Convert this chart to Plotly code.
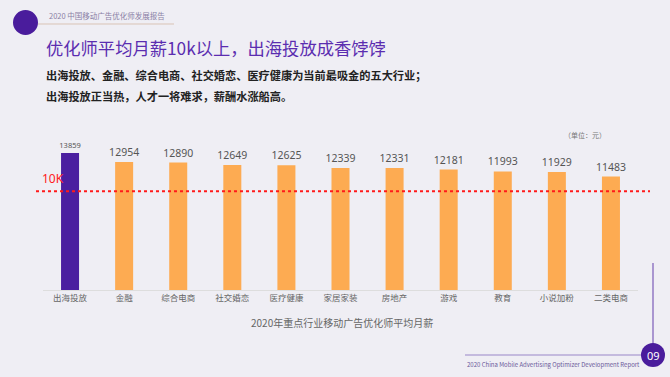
import plotly.graph_objects as go

categories = ["出海投放", "金融", "综合电商", "社交婚恋", "医疗健康", "家居家装", "房地产", "游戏", "教育", "小说加粉", "二类电商"]
salaries = [13859, 12954, 12890, 12649, 12625, 12339, 12331, 12181, 11993, 11929, 11483]
threshold = 10000
threshold_label = "10K"
unit_label = "（单位：元）"
title_text = "优化师平均月薪10k以上，出海投放成香饽饽"
sub1 = "出海投放、金融、综合电商、社交婚恋、医疗健康为当前最吸金的五大行业；"
sub2 = "出海投放正当热，人才一将难求，薪酬水涨船高。"
header_text = "2020 中国移动广告优化师发展报告"
caption_text = "2020年重点行业移动广告优化师平均月薪"
footer_text = "2020 China Mobile Advertising Optimizer Development Report"
page_no = "09"

W, H = 670, 377
L, R, T, B = 43, 32, 120, 87
PW, PH = W - L - R, H - T - B
YMAX = 17200

def px(x):
    return (x - L) / PW

def py(y):
    return (H - B - y) / PH

CJK = "Noto Sans CJK SC"
BG = "#efeef4"
bar_colors = ["#4b1fa0"] + ["#fdab52"] * (len(categories) - 1)
label_sizes = [7.5] + [10.5] * (len(categories) - 1)

fig = go.Figure()
fig.add_trace(go.Bar(
    x=categories, y=salaries,
    marker=dict(color=bar_colors, line=dict(width=0)),
    text=[str(v) for v in salaries], textposition="outside", constraintext="none",
    textfont=dict(family="Noto Sans", size=label_sizes, color="#555555"),
    cliponaxis=False, hoverinfo="skip",
))

shapes = [
    dict(type="line", xref="paper", yref="y", x0=px(36), x1=px(650), y0=threshold, y1=threshold,
         line=dict(color="#ff1a1a", width=2, dash="dot")),
    dict(type="circle", xref="paper", yref="paper", x0=px(13), x1=px(38), y0=py(35), y1=py(10),
         fillcolor="#4a1c9c", line=dict(width=0)),
    dict(type="line", xref="paper", yref="paper", x0=px(38), x1=px(174), y0=py(24), y1=py(24),
         line=dict(color="#d9c3b5", width=1)),
    dict(type="line", xref="paper", yref="paper", x0=px(653), x1=px(653), y0=py(263), y1=py(345),
         line=dict(color="#7b5cb8", width=1.2)),
    dict(type="line", xref="paper", yref="paper", x0=px(465), x1=px(642), y0=py(355), y1=py(355),
         line=dict(color="#9a86c8", width=1.2)),
    dict(type="circle", xref="paper", yref="paper", x0=px(641), x1=px(665), y0=py(367), y1=py(343),
         fillcolor="#4a1c9c", line=dict(width=0)),
]

def ann(text, x, y, size, color, xanchor="left", family=CJK, bold=False):
    t = f"<b>{text}</b>" if bold else text
    return dict(text=t, xref="paper", yref="paper", x=px(x), y=py(y), xanchor=xanchor, yanchor="middle",
                showarrow=False, font=dict(family=family, size=size, color=color))

annotations = [
    ann(header_text, 47, 16, 7.5, "#8a7fa5"),
    ann(title_text, 44, 47, 17.3, "#5b2db0"),
    ann(sub1, 44, 75, 11.2, "#222222", bold=True),
    ann(sub2, 44, 96, 11.2, "#222222", bold=True),
    ann(threshold_label, 40, 178, 12, "#ff2020", family="Noto Sans"),
    ann(unit_label, 585, 135, 7, "#777777", xanchor="center"),
    ann(caption_text, 342, 322, 10, "#666666", xanchor="center"),
    ann(footer_text, 465, 364, 6, "#6b5a9a"),
    ann(page_no, 653, 355, 11, "#ffffff", xanchor="center", family="Noto Sans"),
]

fig.update_layout(
    width=W, height=H,
    margin=dict(l=L, r=R, t=T, b=B),
    paper_bgcolor=BG, plot_bgcolor="rgba(0,0,0,0)",
    bargap=0.667, showlegend=False,
    shapes=shapes, annotations=annotations,
    xaxis=dict(showgrid=False, showline=True, linecolor="#dddddd", linewidth=1, ticks="",
               tickfont=dict(family=CJK, size=8.5, color="#666666"), fixedrange=True),
    yaxis=dict(range=[0, YMAX], visible=False, fixedrange=True),
)

fig.write_html(
    "out.html",
    config={"displayModeBar": False},
    post_script="document.body.style.margin='0';document.body.style.background='" + BG + "';document.body.style.overflow='hidden';",
)
